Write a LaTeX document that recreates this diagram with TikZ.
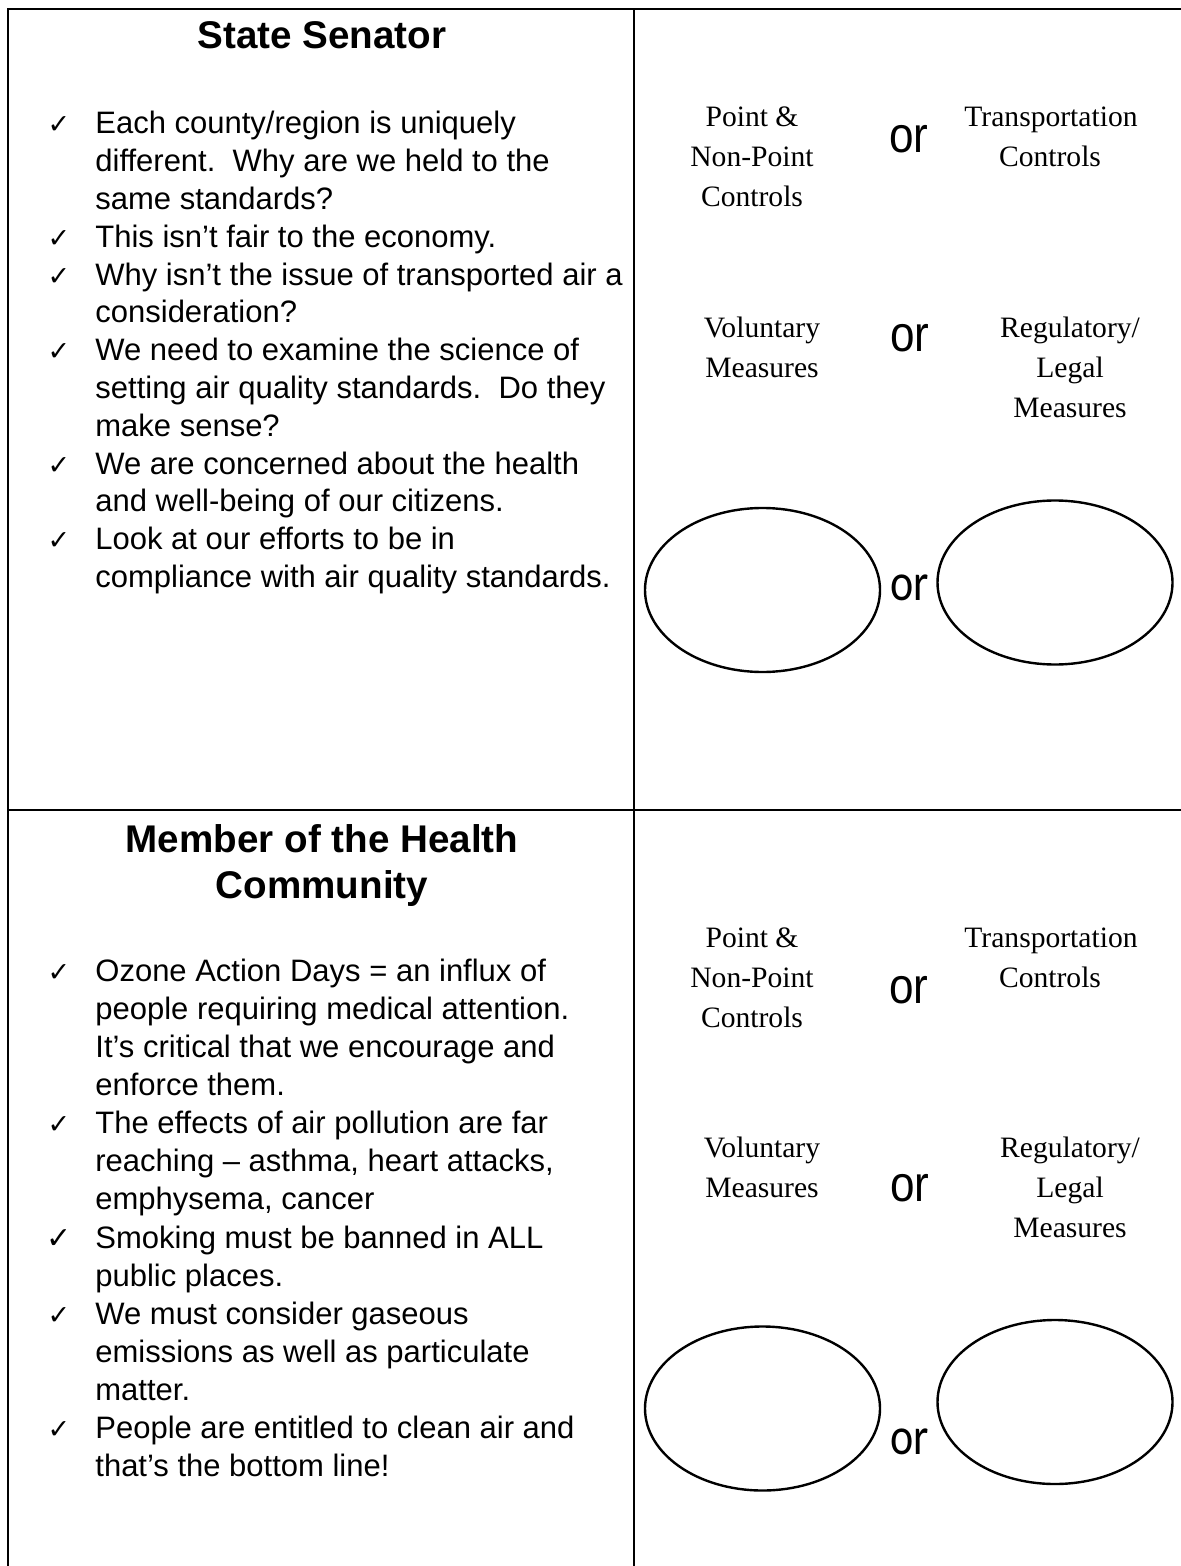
\documentclass[tikz,border=0pt]{standalone}
\usepackage{fontspec}
\setmainfont{Liberation Sans}
\newfontfamily\seriffam{Liberation Serif}
\newfontfamily\calfam{Carlito}
\newfontfamily\chkfam{DejaVu Sans}
\usetikzlibrary{shapes.geometric}
\begin{document}
\begin{tikzpicture}[x=0.5pt,y=-0.5pt,
  frame/.style={line width=1.4pt,line cap=rect},
  body/.style={anchor=base west,inner sep=0,font=\fontsize{15.5}{18}\selectfont},
  chk/.style={anchor=base,inner sep=0,font=\chkfam\fontsize{13.5}{13.5}\selectfont},
  bigchk/.style={chk,font=\chkfam\fontsize{15}{15}\selectfont},
  title/.style={anchor=base,inner sep=0,font=\bfseries\fontsize{19.3}{22}\selectfont},
  opt/.style={anchor=base,inner sep=0,font=\seriffam\fontsize{14.8}{17}\selectfont},
  orword/.style={inner sep=0,font=\fontsize{21}{24}\selectfont},
  orcal/.style={inner sep=0,font=\calfam\fontsize{22}{24}\selectfont},
  blank/.style={ellipse,draw,line width=1.2pt,inner sep=0,minimum width=117.5pt,minimum height=82pt}]

\useasboundingbox (0,0) rectangle (1181,1566);
\fill[white] (0,0) rectangle (1181,1566);

% frame
\coordinate (tl) at (8,9);
\coordinate (tr) at (1181,9);
\coordinate (bl) at (8,1566);
\coordinate (tm) at (634,9);
\coordinate (bm) at (634,1566);
\coordinate (ml) at (8,810);
\coordinate (mr) at (1181,810);
\draw[frame] (bl) -- (tl) -- (tr);
\draw[frame] (tm) -- (bm);
\draw[frame] (ml) -- (mr);

% ---------- upper left ----------
\node[title] (t1) at (322,49) {State Senator};

\node[chk] (c1) at (59,134) {✓};
\node[body] (u1) at (95,134.0) {Each county/region is uniquely};
\node[body] (u2) at (95,171.8) {different.\ \ Why are we held to the};
\node[body] (u3) at (95,209.6) {same standards?};
\node[chk] (c2) at (59,247.4) {✓};
\node[body] (u4) at (95,247.4) {This isn’t fair to the economy.};
\node[chk] (c3) at (59,285.2) {✓};
\node[body] (u5) at (95,285.2) {Why isn’t the issue of transported air a};
\node[body] (u6) at (95,323.0) {consideration?};
\node[chk] (c4) at (59,360.8) {✓};
\node[body] (u7) at (95,360.8) {We need to examine the science of};
\node[body] (u8) at (95,398.6) {setting air quality standards.\ \ Do they};
\node[body] (u9) at (95,436.4) {make sense?};
\node[chk] (c5) at (59,474.2) {✓};
\node[body] (u10) at (95,474.2) {We are concerned about the health};
\node[body] (u11) at (95,512.0) {and well-being of our citizens.};
\node[chk] (c6) at (59,549.8) {✓};
\node[body] (u12) at (95,549.8) {Look at our efforts to be in};
\node[body] (u13) at (95,587.6) {compliance with air quality standards.};

% ---------- upper right ----------
\node[opt] (p1) at (752,127) {Point \&};
\node[opt] (p2) at (752,167) {Non-Point};
\node[opt] (p3) at (752,207) {Controls};
\node[opt] (q1) at (1051,127) {Transportation};
\node[opt] (q2) at (1050,167) {Controls};
\node[orword] (o1) at (909,139) {\scalebox{1.05}[1.2]{or}};

\node[opt] (v1) at (762,338) {Voluntary};
\node[opt] (v2) at (762,378) {Measures};
\node[opt] (r1) at (1070,338) {Regulatory/};
\node[opt] (r2) at (1070,378) {Legal};
\node[opt] (r3) at (1070,418) {Measures};
\node[orword] (o2) at (910,338) {\scalebox{1.05}[1.2]{or}};

\node[blank] (e1) at (762.5,590) {};
\node[blank] (e2) at (1055,582.5) {};
\node[orcal] (o3) at (910,588) {\scalebox{1}[1.2]{or}};

% ---------- lower left ----------
\node[title] (t2) at (322,852) {Member of the Health};
\node[title] (t3) at (322,898) {Community};

\node[chk] (d1) at (59,981) {✓};
\node[body] (l1) at (95,981.00) {Ozone Action Days = an influx of};
\node[body] (l2) at (95,1019.15) {people requiring medical attention.};
\node[body] (l3) at (95,1057.30) {It’s critical that we encourage and};
\node[body] (l4) at (95,1095.45) {enforce them.};
\node[chk] (d2) at (59,1133.6) {✓};
\node[body] (l5) at (95,1133.60) {The effects of air pollution are far};
\node[body] (l6) at (95,1171.75) {reaching – asthma, heart attacks,};
\node[body] (l7) at (95,1209.90) {emphysema, cancer};
\node[bigchk] (d3) at (59,1248.05) {✓};
\node[body] (l8) at (95,1248.05) {Smoking must be banned in ALL};
\node[body] (l9) at (95,1286.20) {public places.};
\node[chk] (d4) at (59,1324.35) {✓};
\node[body] (l10) at (95,1324.35) {We must consider gaseous};
\node[body] (l11) at (95,1362.50) {emissions as well as particulate};
\node[body] (l12) at (95,1400.65) {matter.};
\node[chk] (d5) at (59,1438.8) {✓};
\node[body] (l13) at (95,1438.80) {People are entitled to clean air and};
\node[body] (l14) at (95,1476.95) {that’s the bottom line!};

% ---------- lower right ----------
\node[opt] (pp1) at (752,947) {Point \&};
\node[opt] (pp2) at (752,987) {Non-Point};
\node[opt] (pp3) at (752,1027) {Controls};
\node[opt] (qq1) at (1051,947) {Transportation};
\node[opt] (qq2) at (1050,987) {Controls};
\node[orword] (o4) at (909,990) {\scalebox{1.05}[1.2]{or}};

\node[opt] (vv1) at (762,1157) {Voluntary};
\node[opt] (vv2) at (762,1197) {Measures};
\node[opt] (rr1) at (1070,1157) {Regulatory/};
\node[opt] (rr2) at (1070,1197) {Legal};
\node[opt] (rr3) at (1070,1237) {Measures};
\node[orword] (o5) at (910,1188) {\scalebox{1.05}[1.2]{or}};

\node[blank] (e3) at (762.5,1408.5) {};
\node[blank] (e4) at (1055,1402) {};
\node[orcal] (o6) at (910,1442) {\scalebox{1}[1.2]{or}};
\end{tikzpicture}
\end{document}
